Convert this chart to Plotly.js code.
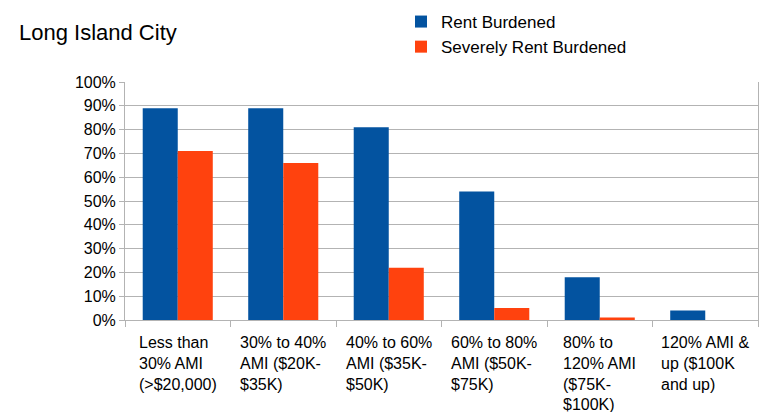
<!DOCTYPE html>
<html>
<head>
<meta charset="utf-8">
<script src="https://cdn.plot.ly/plotly-3.0.1.min.js"></script>
<style>
  html, body { margin: 0; padding: 0; background: #fff; }
  #chart { width: 771px; height: 412px; }
</style>
</head>
<body>
<div id="chart"></div>
<script>
const categories = [
  "Less than<br>30% AMI<br>(>$20,000)",
  "30% to 40%<br>AMI ($20K-<br>$35K)",
  "40% to 60%<br>AMI ($35K-<br>$50K)",
  "60% to 80%<br>AMI ($50K-<br>$75K)",
  "80% to<br>120% AMI<br>($75K-<br>$100K)",
  "120% AMI &<br>up ($100K<br>and up)"
];
const rentBurdened = [0.89, 0.89, 0.81, 0.54, 0.18, 0.04];
const severelyRentBurdened = [0.71, 0.66, 0.22, 0.05, 0.01, 0.0];
const seriesNames = ["Rent Burdened", "Severely Rent Burdened"];

const FONT = "'Liberation Sans', Arial, Helvetica, sans-serif";
const GRID = "#b3b3b3";

const traces = [
  { type: "bar", name: seriesNames[0], x: categories, y: rentBurdened,
    marker: { color: "#0353a0" }, hoverinfo: "y" },
  { type: "bar", name: seriesNames[1], x: categories, y: severelyRentBurdened,
    marker: { color: "#ff420e" }, hoverinfo: "y" }
];

const annotations = categories.map(c => ({
  x: c, xref: "x", y: 0, yref: "y",
  text: c, showarrow: false,
  xanchor: "center", yanchor: "top", align: "left",
  yshift: -12,
  font: { family: FONT, size: 16, color: "#000" }
}));

const layout = {
  width: 771, height: 412,
  margin: { l: 125, r: 13, t: 82, b: 92, autoexpand: false },
  paper_bgcolor: "#fff", plot_bgcolor: "#fff",
  font: { family: FONT, size: 16, color: "#000" },
  title: {
    text: "Long Island City",
    x: 19 / 771, xref: "container", xanchor: "left",
    y: 1 - 32 / 412, yref: "container", yanchor: "middle",
    font: { family: FONT, size: 22, color: "#000" }
  },
  barmode: "group",
  bargap: 0.336,
  bargroupgap: 0,
  showlegend: true,
  legend: {
    orientation: "v",
    xref: "container", yref: "container",
    x: 401 / 771, xanchor: "left",
    y: 1 - 4 / 412, yanchor: "top",
    font: { family: FONT, size: 17, color: "#000" },
    bgcolor: "rgba(0,0,0,0)"
  },
  xaxis: {
    type: "category",
    showticklabels: false,
    ticks: "outside", tickson: "boundaries", ticklen: 6,
    tickcolor: GRID, tickwidth: 1,
    showline: true, linecolor: GRID, linewidth: 1,
    showgrid: false, zeroline: false, fixedrange: true
  },
  yaxis: {
    range: [0, 1], dtick: 0.1, tick0: 0, tickformat: ".0%",
    ticks: "outside", ticklen: 5, tickcolor: GRID,
    showgrid: true, gridcolor: GRID, gridwidth: 1,
    showline: true, linecolor: GRID, linewidth: 1, mirror: true,
    zeroline: false, fixedrange: true,
    tickfont: { family: FONT, size: 16, color: "#000" }
  },
  annotations: annotations
};

Plotly.newPlot("chart", traces, layout, { displayModeBar: false, staticPlot: true });
</script>
</body>
</html>
